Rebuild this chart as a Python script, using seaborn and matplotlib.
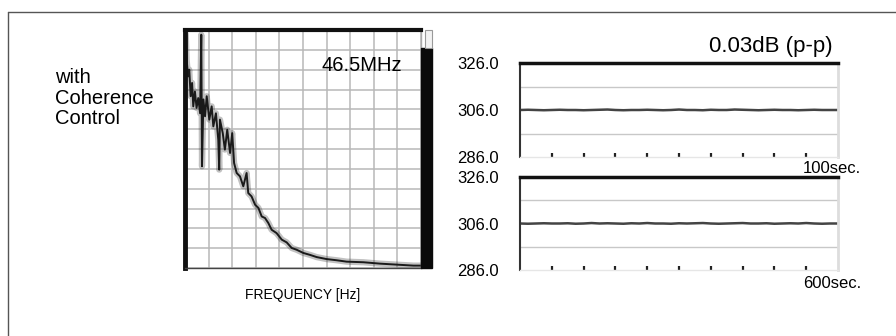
import matplotlib
matplotlib.use('Agg')
import matplotlib.pyplot as plt
import seaborn as sns
import pandas as pd
from matplotlib.patches import Rectangle
from matplotlib.lines import Line2D

# spectrum trace (grid divisions: x 0..10, y 0..12)
freq_div = [0.03, 0.07, 0.13, 0.18, 0.24, 0.30, 0.35, 0.42, 0.49, 0.56, 0.64, 0.69, 0.72,
            0.78, 0.85, 0.92, 1.03, 1.13, 1.20, 1.31, 1.41, 1.45, 1.48, 1.60, 1.69, 1.79,
            1.91, 2.00, 2.08, 2.19, 2.33, 2.47, 2.61, 2.68, 2.82, 2.97, 3.11, 3.25, 3.39,
            3.53, 3.67, 3.88, 4.10, 4.31, 4.52, 4.73, 5.01, 5.30, 5.58, 6.00, 6.43, 6.85,
            7.56, 8.26, 8.97, 9.68, 9.99]
level_div = [11.8, 10.5, 9.66, 10.0, 8.66, 9.33, 8.15, 8.9, 8.07, 8.57, 7.8, 11.76, 5.13,
             8.5, 7.65, 8.66, 7.48, 8.15, 7.14, 7.8, 6.47, 4.96, 7.48, 6.8, 5.97, 6.97,
             5.8, 6.8, 5.29, 4.79, 4.62, 4.12, 4.79, 3.78, 3.61, 3.19, 3.03, 2.6, 2.52,
             2.27, 1.93, 1.76, 1.43, 1.29, 1.01, 0.92, 0.76, 0.66, 0.55, 0.45, 0.39, 0.32,
             0.29, 0.22, 0.17, 0.12, 0.12]

# stability traces (dB display units)
t_100 = [0.25 * i for i in range(41)]
p_100 = [306.0, 306.1, 306.0, 305.9, 306.0, 306.1, 306.0, 306.0, 305.9, 306.0, 306.1,
         306.2, 306.0, 305.9, 306.0, 306.0, 306.1, 306.0, 305.9, 306.0, 306.2, 306.0,
         306.0, 305.9, 306.1, 306.0, 306.0, 306.2, 306.1, 306.0, 305.9, 306.0, 306.1,
         306.0, 306.0, 305.9, 306.0, 306.1, 306.0, 306.0, 306.0]
t_600 = [0.25 * i for i in range(41)]
p_600 = [306.0, 305.9, 306.0, 306.1, 306.0, 306.0, 306.1, 305.9, 306.0, 306.2, 306.0,
         306.1, 306.0, 305.9, 306.1, 306.0, 306.2, 306.0, 306.0, 305.9, 306.1, 306.0,
         306.1, 306.2, 306.0, 305.9, 306.0, 306.1, 306.2, 306.0, 306.0, 306.1, 305.9,
         306.0, 306.1, 306.0, 306.2, 306.0, 305.9, 306.0, 306.0]
y_ticks = [286.0, 306.0, 326.0]
x_ticks = [1, 2, 3, 4, 5, 6, 7, 8, 9]

sns.set_style('white')
plt.rcParams['font.family'] = ['Liberation Sans', 'DejaVu Sans']
plt.rcParams['text.color'] = 'black'
plt.rcParams['ytick.color'] = 'black'

W, H = 896, 336
fig = plt.figure(figsize=(W / 100, H / 100), dpi=100)


def box(x0, y0, x1, y1):
    return [x0 / W, 1 - y1 / H, (x1 - x0) / W, (y1 - y0) / H]


# outer frame (only top and left visible)
fig.add_artist(Line2D([8 / W, 1.0], [1 - 12 / H, 1 - 12 / H], color='#555555', lw=1))
fig.add_artist(Line2D([8 / W, 8 / W], [0, 1 - 12 / H], color='#555555', lw=1))

fig.text(55 / W, 1 - 68 / H, 'with\nCoherence\nControl', fontsize=14.5,
         va='top', ha='left', linespacing=1.1)

# spectrum
ax = fig.add_axes(box(185, 30, 421, 268))
spec = pd.DataFrame({'f': freq_div, 'lvl': level_div})
sns.lineplot(data=spec, x='f', y='lvl', ax=ax, color='#333333', lw=4.5, alpha=0.3,
             sort=False, estimator=None)
sns.lineplot(data=spec, x='f', y='lvl', ax=ax, color='#1a1a1a', lw=1.4,
             sort=False, estimator=None)
ax.set_xlim(0, 10)
ax.set_ylim(0, 12)
ax.set_xticks(range(11))
ax.set_yticks(range(13))
ax.grid(True, color='#b8b8b8', lw=1.1)
ax.tick_params(length=0, labelbottom=False, labelleft=False)
ax.set_xlabel('')
ax.set_ylabel('')
for s, (c, w) in {'top': ('#111111', 3), 'left': ('#111111', 3.5),
                  'bottom': ('#444444', 1), 'right': ('#aaaaaa', 1)}.items():
    ax.spines[s].set_color(c)
    ax.spines[s].set_linewidth(w)
ax.add_patch(Rectangle((1.0, 0.0), 0.047, 0.924, transform=ax.transAxes,
                       color='#0a0a0a', clip_on=False, zorder=5))
ax.add_patch(Rectangle((1.017, 0.924), 0.03, 0.076, transform=ax.transAxes,
                       facecolor='#f2f2f2', edgecolor='#999999', lw=0.8,
                       clip_on=False, zorder=5))
ax.text(0.58, 0.827, '46.5MHz', transform=ax.transAxes, fontsize=14.5,
        ha='left', va='baseline')
fig.text(303 / W, 1 - 299 / H, 'FREQUENCY [Hz]', fontsize=10, ha='center', va='baseline')


def stab(axx, t, p):
    d = pd.DataFrame({'t': t, 'p': p})
    sns.lineplot(data=d, x='t', y='p', ax=axx, color='#444444', lw=1.8, estimator=None)
    axx.set_xlim(0, 10)
    axx.set_ylim(286, 326)
    axx.set_yticks(y_ticks)
    axx.set_yticklabels([f'{v:.1f}' for v in y_ticks], fontsize=12)
    axx.set_xticks(x_ticks)
    axx.tick_params(axis='x', bottom=True, direction='in', length=3, width=1.6,
                    color='#222222', labelbottom=False)
    axx.tick_params(axis='y', length=0, pad=15)
    for g in (296, 316):
        axx.axhline(g, color='#c8c8c8', lw=1, zorder=0)
    axx.set_xlabel('')
    axx.set_ylabel('')
    axx.spines['top'].set_color('#111111')
    axx.spines['top'].set_linewidth(2.5)
    axx.spines['left'].set_color('#333333')
    axx.spines['left'].set_linewidth(1.5)
    axx.spines['right'].set_color('#dddddd')
    axx.spines['right'].set_linewidth(2)
    axx.spines['bottom'].set_color('#e6e6e6')
    axx.spines['bottom'].set_linewidth(1)


ax1 = fig.add_axes(box(520, 63, 838, 157))
stab(ax1, t_100, p_100)
ax2 = fig.add_axes(box(520, 177, 838, 270))
stab(ax2, t_600, p_600)

fig.text(833 / W, 1 - 52 / H, '0.03dB (p-p)', fontsize=16, ha='right', va='baseline')
fig.text(861 / W, 1 - 173 / H, '100sec.', fontsize=12, ha='right', va='baseline')
fig.text(861 / W, 1 - 288 / H, '600sec.', fontsize=12, ha='right', va='baseline')

fig.savefig('out.png', dpi=100)
